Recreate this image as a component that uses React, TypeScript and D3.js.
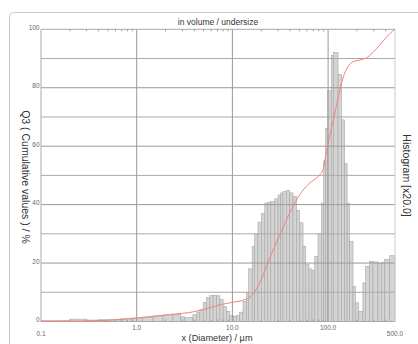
import React, { useRef, useEffect } from 'react';
import * as d3 from 'd3';

// histogram class edges (µm) and heights (x20 scale)
const histEdges = [0.1, 0.2, 0.3, 0.41, 0.67, 0.91, 1.16, 1.48, 1.88, 2.39, 2.89, 3.19, 3.86, 4.25, 4.57, 4.95, 5.37, 5.81, 6.29, 6.82, 7.39, 8.0, 8.68, 9.4, 10.2, 11.0, 11.9, 12.9, 14.0, 14.8, 16.1, 17.1, 18.5, 20.1, 21.8, 23.4, 25.2, 27.7, 30.0, 32.0, 33.8, 36.7, 39.7, 43.0, 46.7, 50.5, 54.7, 58.4, 63.2, 67.9, 72.5, 78.5, 85.1, 90.0, 94.4, 99.0, 108, 114, 127, 138, 149, 158, 168, 182, 193, 209, 231, 247, 272, 294, 332, 360, 390, 440, 500];
const histValues = [0.3, 0.8, 0.5, 0.6, 0.9, 1.2, 1.5, 1.9, 2.2, 2.4, 1.6, 1.3, 2.3, 3.2, 4.0, 6.5, 8.2, 8.9, 9.0, 8.8, 7.5, 5.2, 3.5, 2.0, 1.8, 2.0, 3.2, 6.9, 10, 18, 25.7, 30, 34, 37, 40.5, 40.8, 41, 42, 43.3, 44, 44.5, 44.8, 44, 42.8, 38, 33.8, 25.7, 19.5, 18, 17.5, 22.3, 30, 40.5, 55, 66, 79, 91, 92, 84.5, 69, 54, 40.5, 27.4, 12, 6.4, 3.5, 13.2, 18.9, 20.6, 20.4, 19.8, 20.2, 21.2, 22.5];

// cumulative Q3 curve
const cumX = [0.1, 0.41, 1.0, 2.2, 4.05, 5.5, 7.7, 10.1, 13.5, 15.2, 19.3, 24.6, 31.3, 39.7, 50.5, 64.3, 78.5, 88.5, 96, 112.5, 127, 143, 161, 182, 214, 251, 346, 440, 500];
const cumY = [0, 0.3, 1.2, 2.4, 3.4, 4.5, 5.8, 6.6, 7.5, 8.3, 13.2, 21.8, 29.7, 37.1, 43.4, 47.4, 49.6, 52, 58.2, 68.4, 76.4, 83.3, 87.2, 88.9, 89.5, 90.2, 94.6, 98.5, 100];

const yTicks = [0, 20, 40, 60, 80, 100];
const yGrid = [10, 20, 30, 40, 50, 60, 70, 80, 90];
const xMajor = [1, 10, 100];
const xLabels = [
  { v: 0.1, t: '0.1', low: true },
  { v: 1, t: '1.0', low: false },
  { v: 10, t: '10.0', low: false },
  { v: 100, t: '100.0', low: false },
  { v: 500, t: '500.0', low: true },
];

const W = 418;
const H = 344;
const FONT = '"Liberation Sans", Arial, sans-serif';

const App: React.FC = () => {
  const svgRef = useRef<SVGSVGElement | null>(null);

  useEffect(() => {
    const svg = d3.select(svgRef.current);
    svg.selectAll('*').remove();

    const x = d3.scaleLog().domain([0.1, 500]).range([41, 395]);
    const y = d3.scaleLinear().domain([0, 100]).range([321.5, 29.3]);

    // panel border
    svg.append('rect')
      .attr('x', 9.5).attr('y', 12.5)
      .attr('width', 440).attr('height', 360)
      .attr('rx', 4)
      .attr('fill', 'none')
      .attr('stroke', '#c8c8c8');

    // histogram bars
    const bars = histValues.map((v, i) => ({ x0: histEdges[i], x1: histEdges[i + 1], v }));
    svg.append('g')
      .selectAll('rect')
      .data(bars)
      .join('rect')
      .attr('x', d => x(d.x0))
      .attr('y', d => y(d.v))
      .attr('width', d => x(d.x1) - x(d.x0))
      .attr('height', d => y(0) - y(d.v))
      .attr('fill', '#d4d4d4')
      .attr('stroke', '#a8a8a8')
      .attr('stroke-width', 0.6);

    // grid
    const grid = svg.append('g').attr('fill', 'none');
    yGrid.forEach(v => {
      grid.append('line')
        .attr('x1', x(0.1)).attr('x2', x(500))
        .attr('y1', y(v)).attr('y2', y(v))
        .attr('stroke', v % 20 === 0 ? '#999' : '#aaa')
        .attr('stroke-width', 1);
    });
    xMajor.forEach(v => {
      grid.append('line')
        .attr('x1', x(v)).attr('x2', x(v))
        .attr('y1', y(100)).attr('y2', y(0))
        .attr('stroke', '#999');
    });
    // frame
    grid.append('line').attr('x1', x(0.1)).attr('x2', x(500)).attr('y1', y(100)).attr('y2', y(100)).attr('stroke', '#aaa');
    grid.append('line').attr('x1', x(0.1)).attr('x2', x(500)).attr('y1', y(0)).attr('y2', y(0)).attr('stroke', '#aaa');
    grid.append('line').attr('x1', x(0.1)).attr('x2', x(0.1)).attr('y1', y(100)).attr('y2', y(0)).attr('stroke', '#aaa');
    grid.append('line').attr('x1', x(500)).attr('x2', x(500)).attr('y1', y(100)).attr('y2', y(0)).attr('stroke', '#ccc');

    // minor log ticks top and bottom
    const minor = x.ticks().filter(t => t > 0.1 && t < 500 && !xMajor.includes(t));
    minor.forEach(t => {
      grid.append('line').attr('x1', x(t)).attr('x2', x(t))
        .attr('y1', y(100)).attr('y2', y(100) + 2).attr('stroke', '#999');
      grid.append('line').attr('x1', x(t)).attr('x2', x(t))
        .attr('y1', y(0)).attr('y2', y(0) - 2).attr('stroke', '#999');
    });

    // cumulative curve
    const pts = cumX.map((v, i) => [v, cumY[i]] as [number, number]);
    const line = d3.line<[number, number]>()
      .x(d => x(d[0]))
      .y(d => y(d[1]))
      .curve(d3.curveMonotoneX);
    svg.append('path')
      .datum(pts)
      .attr('d', line)
      .attr('fill', 'none')
      .attr('stroke', '#f48080')
      .attr('stroke-width', 1);

    // tick labels
    const lab = svg.append('g').attr('font-family', FONT);
    yTicks.forEach(v => {
      lab.append('text')
        .attr('x', 39.5).attr('y', y(v) + 0.5)
        .attr('text-anchor', 'end')
        .attr('font-size', 6.5)
        .attr('fill', '#666')
        .text(v);
    });
    xLabels.forEach(d => {
      lab.append('text')
        .attr('x', x(d.v)).attr('y', d.low ? 336 : 329.5)
        .attr('text-anchor', 'middle')
        .attr('font-size', 6.5)
        .attr('fill', '#666')
        .text(d.t);
    });

    // titles
    const ttl = svg.append('g').attr('font-family', FONT);
    ttl.append('text')
      .attr('x', 218).attr('y', 24.5)
      .attr('text-anchor', 'middle')
      .attr('font-size', 8.5)
      .attr('fill', '#333333')
      .text('in volume / undersize');
    ttl.append('text')
      .attr('transform', 'translate(21.5,177) rotate(90)')
      .attr('text-anchor', 'middle')
      .attr('font-size', 10.5)
      .attr('fill', '#333333')
      .text('Q3 ( Cumulative values ) / %');
    ttl.append('text')
      .attr('transform', 'translate(403,175.5) rotate(90)')
      .attr('text-anchor', 'middle')
      .attr('font-size', 10.5)
      .attr('fill', '#333333')
      .text('Histogram [x20.0]');
    ttl.append('text')
      .attr('x', 217).attr('y', 341)
      .attr('text-anchor', 'middle')
      .attr('font-size', 9.2)
      .attr('fill', '#333333')
      .text('x (Diameter) / µm');
  }, []);

  return (
    <svg
      ref={svgRef}
      width={W}
      height={H}
      style={{ position: 'absolute', left: 0, top: 0, background: '#fff' }}
    />
  );
};

export default App;
